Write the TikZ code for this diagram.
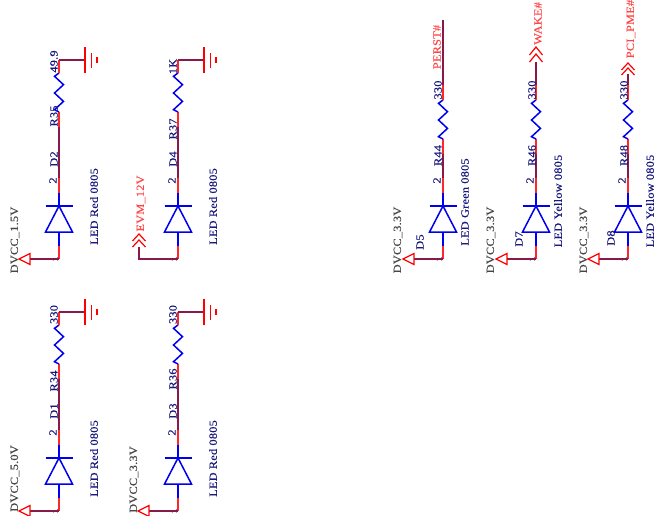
\documentclass[tikz,border=0pt]{standalone}
\usepackage{fontspec}
\setmainfont[LetterSpace=2,FakeStretch=1.12,FakeBold=0.25]{Liberation Serif}
\definecolor{wirered}{RGB}{255,40,40}
\definecolor{wiredark}{RGB}{135,25,75}
\definecolor{netred}{RGB}{255,70,70}
\definecolor{partblue}{RGB}{0,0,240}
\definecolor{labnavy}{RGB}{25,25,125}
\definecolor{labgray}{RGB}{70,70,70}
\tikzset{
  pin/.style={draw=wirered,line width=1.2pt},
  wire/.style={draw=wiredark,line width=1.2pt},
  part/.style={draw=partblue,line width=1.5pt,line join=miter},
  sym/.style={draw=red,line width=1.2pt},
  txt/.style={rotate=90,inner sep=0pt,font=\fontsize{11}{12}\selectfont},
  lab/.style={txt,text=labnavy},
  pwr/.style={txt,text=labgray},
  net/.style={txt,text=netred},
}
% #1 id, #2 x, #3 vertical shift, #4 top of the resistor
\newcommand{\ledchain}[4]{%
  \coordinate (#1rt) at (#2,#4);
  \coordinate (#1rb) at (#2,#4+39);
  \coordinate (#1rp) at (#2,#4+54);
  \coordinate (#1dt) at (#2,#3+193);
  \coordinate (#1dq) at (#2,#3+178);
  \coordinate (#1c) at (#2,#3+206);
  \coordinate (#1a) at (#2,#3+232);
  \coordinate (#1db) at (#2,#3+246);
  \coordinate (#1k) at (#2,#3+259);
  \draw[pin] (#1rb) -- (#1rp);
  \draw[wire] (#1rp) -- (#1dq);
  \draw[pin] (#1dq) -- (#1dt);
  \draw[part] (#1rt) -- ++(-4.5,3.3) -- ++(9,8.4) -- ++(-9,8.3) -- ++(9,8.4) -- ++(-9,8.3) -- (#1rb);
  \draw[part] (#1dt) -- (#1c);
  \draw[part] ([xshift=-13.5]#1c) -- ([xshift=13.5]#1c);
  \draw[part] (#1c) -- ([xshift=-13.5]#1a) -- ([xshift=13.5]#1a) -- cycle;
  \draw[part] (#1a) -- (#1db);
  \draw[pin] (#1db) -- (#1k);
  \node[lab,font=\fontsize{8.5}{9}\selectfont] at ([xshift=-4]#1k) {1};
  \node[lab] at ([xshift=-6,yshift=-2.5]#1dq) {2};
}
% ground at the top of a chain: #1 id, #2 x, #3 y
\newcommand{\gndtop}[3]{%
  \coordinate (#1t) at (#2,#3);
  \coordinate (#1g) at (#2+26,#3);
  \draw[pin] (#1t) -- ++(0,13);
  \draw[wire] (#1t) -- (#1g);
  \draw[sym] ([yshift=-13]#1g) -- ([yshift=13]#1g);
  \draw[sym] ([xshift=6.5,yshift=-7.5]#1g) -- ([xshift=6.5,yshift=7.5]#1g);
  \draw[sym] ([xshift=12,yshift=-3]#1g) -- ([xshift=12,yshift=3]#1g);
}
% power flag: #1 id
\newcommand{\pwrflag}[1]{%
  \coordinate (#1f) at ([xshift=-29]#1k);
  \draw[wire] (#1k) -- (#1f);
  \draw[sym] (#1f) ++(0,-5.5) -- ++(0,11) -- ++(-11,-5.5) -- cycle;
}
\begin{document}
\begin{tikzpicture}[x=1pt,y=-1pt]
\useasboundingbox (0,0) rectangle (667,515);
% left columns
\ledchain{d2}{59}{0}{73}
\gndtop{d2}{59}{60}
\pwrflag{d2}
\ledchain{d4}{178}{0}{73}
\gndtop{d4}{178}{60}
\ledchain{d1}{59}{252}{325}
\gndtop{d1}{59}{312}
\pwrflag{d1}
\ledchain{d3}{178}{252}{325}
\gndtop{d3}{178}{312}
\pwrflag{d3}
% EVM_12V port
\coordinate (evmc) at (139,259);
\coordinate (evmp) at (139,247);
\draw[wire] (d4k) -- (evmc) -- (evmp);
\draw[sym] (132.5,241) -- (139,234) -- (145.5,241);
\draw[sym] (132.5,247) -- (139,240) -- (145.5,247);
% right columns
\ledchain{d5}{443}{0}{100}
\ledchain{d7}{536}{0}{100}
\ledchain{d8}{628}{0}{100}
\pwrflag{d5}
\pwrflag{d7}
\pwrflag{d8}
\coordinate (perst) at (443,20);
\coordinate (d5q) at (443,85);
\draw[wire] (perst) -- (d5q);
\draw[pin] (d5q) -- (d5rt);
\coordinate (wake) at (536,62);
\coordinate (d7q) at (536,85);
\draw[wire] (wake) -- (d7q);
\draw[pin] (d7q) -- (d7rt);
\draw[sym] (529.5,55) -- (536,47) -- (542.5,55);
\draw[sym] (529.5,62) -- (536,54) -- (542.5,62);
\coordinate (pme) at (628,74);
\coordinate (d8q) at (628,85);
\draw[wire] (pme) -- (d8q);
\draw[pin] (d8q) -- (d8rt);
\draw[sym] (621.5,70) -- (628,63) -- (634.5,70);
\draw[sym] (621.5,75) -- (628,68) -- (634.5,75);
% labels: D2
\node[lab] at (54,61.5) {49.9};
\node[lab] at (54,116) {R35};
\node[lab] at (54,159) {D2};
\node[lab] at (94,206.5) {LED Red 0805};
\node[pwr] at (15,240) {DVCC\_1.5V};
% D4
\node[lab] at (173,66.5) {1K};
\node[lab] at (173,129) {R37};
\node[lab] at (173,159) {D4};
\node[lab] at (213,206.5) {LED Red 0805};
\node[net] at (141,203.5) {EVM\_12V};
% D1
\node[lab] at (54,314.5) {330};
\node[lab] at (54,381) {R34};
\node[lab] at (54,411) {D1};
\node[lab] at (94,458.5) {LED Red 0805};
\node[pwr] at (15,478.5) {DVCC\_5.0V};
% D3
\node[lab] at (173,314.5) {330};
\node[lab] at (173,379) {R36};
\node[lab] at (173,411) {D3};
\node[lab] at (213,458.5) {LED Red 0805};
\node[pwr] at (134,479.5) {DVCC\_3.3V};
% D5
\node[lab] at (438,90) {330};
\node[lab] at (438,155.5) {R44};
\node[lab] at (420,242) {D5};
\node[lab] at (465,202) {LED Green 0805};
\node[pwr] at (398,240) {DVCC\_3.3V};
\node[net] at (437,47) {PERST\#};
% D7
\node[lab] at (532,90) {330};
\node[lab] at (532,155.5) {R46};
\node[lab] at (519,239) {D7};
\node[lab] at (558,201) {LED Yellow 0805};
\node[pwr] at (491,240) {DVCC\_3.3V};
\node[net] at (538,23.5) {WAKE\#};
% D8
\node[lab] at (624,90) {330};
\node[lab] at (624,155.5) {R48};
\node[lab] at (611,238) {D8};
\node[lab] at (650,201) {LED Yellow 0805};
\node[pwr] at (584,240) {DVCC\_3.3V};
\node[net] at (631,29) {PCI\_PME\#};
\end{tikzpicture}
\end{document}
